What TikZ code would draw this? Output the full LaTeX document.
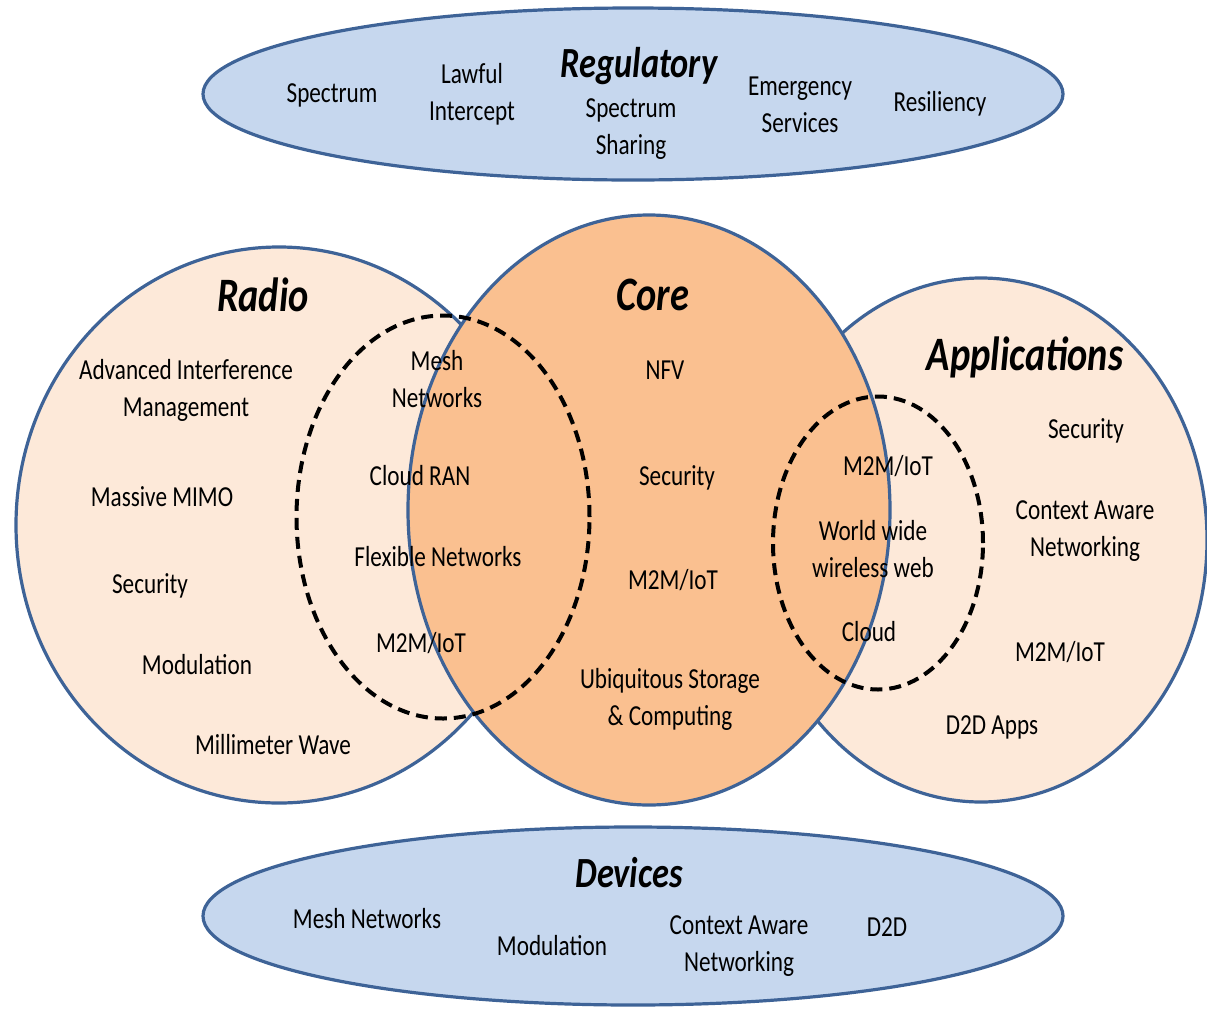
\documentclass[tikz,border=0pt]{standalone}
\usepackage{fontspec}
\setmainfont{Carlito}[FakeStretch=0.8]
\usetikzlibrary{shapes.geometric}
\definecolor{bluefill}{HTML}{C6D7EE}
\definecolor{blueline}{HTML}{3E6397}
\definecolor{peach}{HTML}{FDE9D9}
\definecolor{orangefill}{HTML}{FAC090}
\begin{document}
\begin{tikzpicture}[x=1pt,y=-1pt,
  blob/.style={ellipse, draw=blueline, line width=3.2pt, inner sep=0pt},
  dashring/.style={ellipse, draw=black, line width=4pt, dash pattern=on 12pt off 7pt, inner sep=0pt},
  txt/.style={font=\fontsize{29}{37}\selectfont, align=center, inner sep=0pt, text=black},
  ttl/.style={font=\fontsize{48}{52}\selectfont\bfseries\itshape, inner sep=0pt, text=black},
  ttls/.style={font=\fontsize{43}{48}\selectfont\bfseries\itshape, inner sep=0pt, text=black}]
\useasboundingbox (0,0) rectangle (1207,1010);
\fill[white] (0,0) rectangle (1207,1010);
% top and bottom ellipses
\node[blob, fill=bluefill, minimum width=860pt, minimum height=172pt] (reg) at (633,94) {};
\node[blob, fill=bluefill, minimum width=860pt, minimum height=178pt] (dev) at (633,916) {};
% big circles
\node[blob, fill=peach, minimum width=526pt, minimum height=556pt] (radio) at (279,525) {};
\node[blob, fill=peach, minimum width=452pt, minimum height=524pt] (apps) at (981,540) {};
\node[blob, fill=orangefill, minimum width=482pt, minimum height=590pt] (core) at (649,510) {};
% dashed ellipses
\node[dashring, minimum width=293pt, minimum height=403pt] (dl) at (443,517) {};
\node[dashring, minimum width=210pt, minimum height=293pt] (dr) at (878,543) {};
% Regulatory texts
\node[ttls] (tReg) at (639,66) {Regulatory};
\node[txt] (r1) at (332,95) {Spectrum};
\node[txt] (r2) at (472,94) {Lawful\\Intercept};
\node[txt] (r3) at (631,129) {Spectrum\\Sharing};
\node[txt] (r4) at (800,105) {Emergency\\Services};
\node[txt] (r5) at (940,104) {Resiliency};
% Radio texts
\node[ttl] (tRadio) at (263,295) {Radio};
\node[txt] (a1) at (186,390) {Advanced Interference\\Management};
\node[txt] (a2) at (162,497) {Massive MIMO};
\node[txt] (a3) at (150,586) {Security};
\node[txt] (a4) at (197,665) {Modulation};
\node[txt] (a5) at (273,745) {Millimeter Wave};
% left dashed texts
\node[txt] (b1) at (437,379) {Mesh\\Networks};
\node[txt] (b2) at (420,476) {Cloud RAN};
\node[txt] (b3) at (438,557) {Flexible Networks};
\node[txt] (b4) at (421,643) {M2M/IoT};
% Core texts
\node[ttl] (tCore) at (653,295) {Core};
\node[txt] (c1) at (665,370) {NFV};
\node[txt] (c2) at (677,478) {Security};
\node[txt] (c3) at (673,580) {M2M/IoT};
\node[txt] (c4) at (670,699) {Ubiquitous Storage\\\& Computing};
% right dashed texts
\node[txt] (d1) at (888,466) {M2M/IoT};
\node[txt] (d2) at (873,549) {World wide\\wireless web};
\node[txt] (d3) at (869,632) {Cloud};
% Applications texts
\node[ttl] (tApps) at (1025,357) {Applications};
\node[txt] (e1) at (1086,431) {Security};
\node[txt] (e2) at (1085,531) {Context Aware\\Networking};
\node[txt] (e3) at (1060,652) {M2M/IoT};
\node[txt] (e4) at (992,727) {D2D Apps};
% Devices texts
\node[ttls] (tDev) at (629,873) {Devices};
\node[txt] (f1) at (367,919) {Mesh Networks};
\node[txt] (f2) at (552,946) {Modulation};
\node[txt] (f3) at (739,946) {Context Aware\\Networking};
\node[txt] (f4) at (887,927) {D2D};
\end{tikzpicture}
\end{document}
